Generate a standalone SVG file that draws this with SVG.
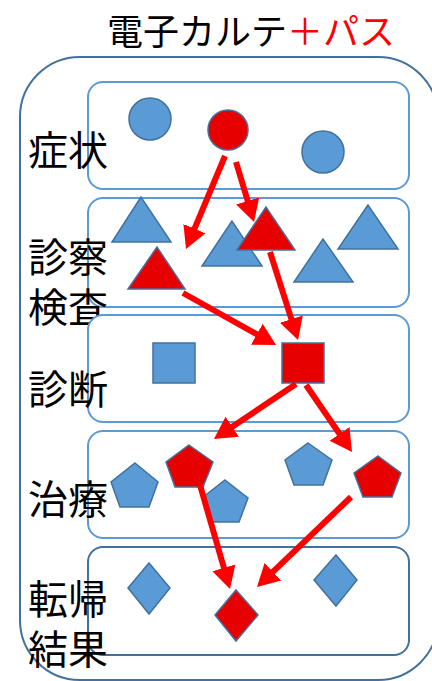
<svg xmlns="http://www.w3.org/2000/svg" width="432" height="681" viewBox="0 0 432 681">
<defs>
<style>
.lane{fill:#fff;stroke:#5B9BD5;stroke-width:2}
.lane2{fill:#fff;stroke:#41719C;stroke-width:2}
.b{fill:#5B9BD5;stroke:#41719C;stroke-width:1.5}
.r{fill:#E60000;stroke:#41719C;stroke-width:1.5}
.lbl{font-family:"Noto Sans CJK JP","Noto Sans CJK SC",sans-serif;font-size:40px;fill:#000}
.arr{stroke:#FF0000;stroke-width:6;fill:none;marker-end:url(#ah)}
</style>
<marker id="ah" markerUnits="userSpaceOnUse" markerWidth="24" markerHeight="26" refX="8" refY="13" orient="auto">
<path d="M0,1 L22,13 L0,25 z" fill="#FF0000"/>
</marker>
</defs>
<rect width="432" height="681" fill="#fff"/>
<text x="107" y="45" style="font-family:'Noto Sans CJK JP','Noto Sans CJK SC',sans-serif;font-size:36px"><tspan fill="#000">電子カルテ</tspan><tspan fill="#FF0000">＋パス</tspan></text>
<rect id="outer" x="20" y="57" width="418" height="623" rx="60" ry="60" fill="none" stroke="#41719C" stroke-width="2"/>

<g id="lane-symptom">
<rect class="lane" x="88" y="82" width="321" height="107" rx="15"/>
<text class="lbl" x="28" y="165">症状</text>
<circle class="b" cx="150" cy="119" r="21"/>
<circle class="r" cx="228" cy="130" r="20"/>
<circle class="b" cx="323" cy="152" r="21"/>
</g>

<g id="lane-exam">
<rect class="lane" x="88" y="198" width="321" height="109" rx="15"/>
<text class="lbl" x="28" y="272">診察</text>
<text class="lbl" x="28" y="322">検査</text>
<polygon class="b" points="141,197 112,242 171,242"/>
<polygon class="b" points="232,221 202,266 262,266"/>
<polygon class="b" points="323,239 294,282 353,282"/>
<polygon class="b" points="368,205 338,249 398,249"/>
<polygon class="r" points="157,247 128,289 185,289"/>
<polygon class="r" points="266,207 237,250 295,250"/>
</g>

<g id="lane-diagnosis">
<rect class="lane" x="88" y="315" width="321" height="107" rx="15"/>
<text class="lbl" x="28" y="404">診断</text>
<rect class="b" x="153" y="343" width="42" height="40"/>
<rect class="r" x="282" y="343" width="42" height="40"/>
</g>

<g id="lane-treatment">
<rect class="lane" x="88" y="431" width="321" height="107" rx="15"/>
<text class="lbl" x="28" y="514">治療</text>
<polygon class="b" points="135,463 158,482 149,507 120,507 111,482"/>
<polygon class="b" points="225,480 248,498 239,522 211,522 202,498"/>
<polygon class="b" points="308,443 332,460 323,485 294,485 285,460"/>
<polygon class="r" points="189,445 213,462 203,487 175,487 166,462"/>
<polygon class="r" points="378,456 401,473 392,497 363,497 354,473"/>
</g>

<g id="lane-outcome">
<rect class="lane2" x="88" y="547" width="321" height="108" rx="15"/>
<text class="lbl" x="28" y="614">転帰</text>
<text class="lbl" x="28" y="664">結果</text>
<polygon class="b" points="149,563 170,588 149,614 128,588"/>
<polygon class="b" points="336,555 357,580 336,606 314,580"/>
<polygon class="r" points="236,590 258,615 236,641 215,615"/>
</g>

<g id="connectors">
<line class="arr" x1="225" y1="156" x2="191.4" y2="236.1"/>
<line class="arr" x1="236" y1="162" x2="250" y2="208.6"/>
<line class="arr" x1="183" y1="293" x2="263.8" y2="338.2"/>
<line class="arr" x1="270" y1="252" x2="293.8" y2="326.7"/>
<line class="arr" x1="296" y1="384" x2="225.6" y2="431.2"/>
<line class="arr" x1="306" y1="385" x2="344.1" y2="440.5"/>
<line class="arr" x1="200" y1="485" x2="226.1" y2="575.5"/>
<line class="arr" x1="351" y1="497" x2="267.1" y2="577.3"/>
</g>
</svg>
